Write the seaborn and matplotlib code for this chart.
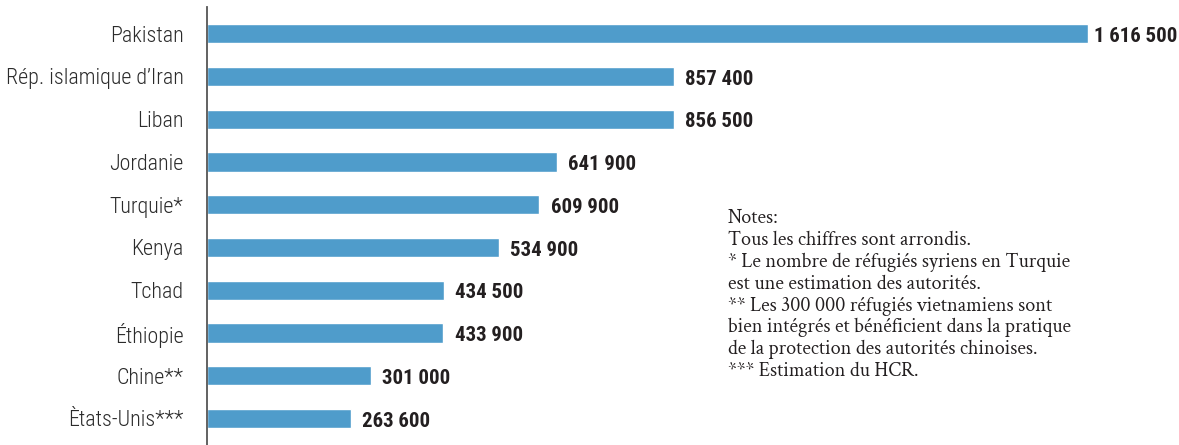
import matplotlib
matplotlib.use("Agg")
import matplotlib.pyplot as plt
from matplotlib import font_manager
import seaborn as sns
import pandas as pd

pays = ["Pakistan", "Rép. islamique d’Iran", "Liban", "Jordanie", "Turquie*",
        "Kenya", "Tchad", "Éthiopie", "Chine**", "Ètats-Unis***"]
refugies = [1616500, 857400, 856500, 641900, 609900, 534900, 434500, 433900, 301000, 263600]
etiquettes = ["1 616 500", "857 400", "856 500", "641 900", "609 900",
              "534 900", "434 500", "433 900", "301 000", "263 600"]

notes = ("Notes:\n"
         "Tous les chiffres sont arrondis.\n"
         "* Le nombre de réfugiés syriens en Turquie\n"
         "est une estimation des autorités.\n"
         "** Les 300 000 réfugiés vietnamiens sont\n"
         "bien intégrés et bénéficient dans la pratique\n"
         "de la protection des autorités chinoises.\n"
         "*** Estimation du HCR.")

dispo = {f.name for f in font_manager.fontManager.ttflist}


def choisir(candidats, defaut):
    for c in candidats:
        if c in dispo:
            return [c, defaut]
    return [defaut]


police_etroite = choisir(["Roboto Condensed", "Archivo Narrow", "PT Sans Narrow",
                          "Liberation Sans Narrow", "Pragati Narrow"], "DejaVu Sans")
police_serif = choisir(["Crimson Text", "EB Garamond", "Liberation Serif"], "DejaVu Serif")

df = pd.DataFrame({"pays": pays, "refugies": refugies})

sns.set_style("white")
plt.rcParams["font.family"] = police_etroite

bleu = "#4f9ccb"
texte = "#231f20"

fig = plt.figure(figsize=(11.79, 4.45), dpi=100)
ax = fig.add_axes([0.1756, 0.0, 1 - 0.1756, 0.984])

sns.barplot(data=df, x="refugies", y="pays", orient="h", color=bleu,
            saturation=1, width=0.45, ax=ax)

ax.set_xlim(0, 1783500)
ax.set_ylim(9.62, -0.62)
ax.set_xlabel("")
ax.set_ylabel("")
ax.set_xticks([])
sns.despine(ax=ax, top=True, right=True, bottom=True, left=False)
ax.spines["left"].set_color("#555555")
ax.spines["left"].set_linewidth(1.3)
ax.tick_params(axis="y", length=0, pad=17, labelsize=15.8, labelcolor="#2b2b2b")
for t in ax.get_yticklabels():
    t.set_fontweight("light")

for p, lab, v in zip(ax.patches, etiquettes, refugies):
    # la plus longue barre : étiquette collée à la barre
    dx = 4 if v == max(refugies) else 8
    ax.annotate(lab, (p.get_x() + p.get_width(), p.get_y() + p.get_height() / 2),
                xytext=(dx, -2), textcoords="offset points",
                ha="left", va="center", fontsize=15, fontweight="bold", color=texte)

fig.text(0.6175, 0.53, notes, ha="left", va="top", fontsize=14.5,
         family=police_serif, color=texte, linespacing=1.17)

fig.savefig("out.png", dpi=100)
